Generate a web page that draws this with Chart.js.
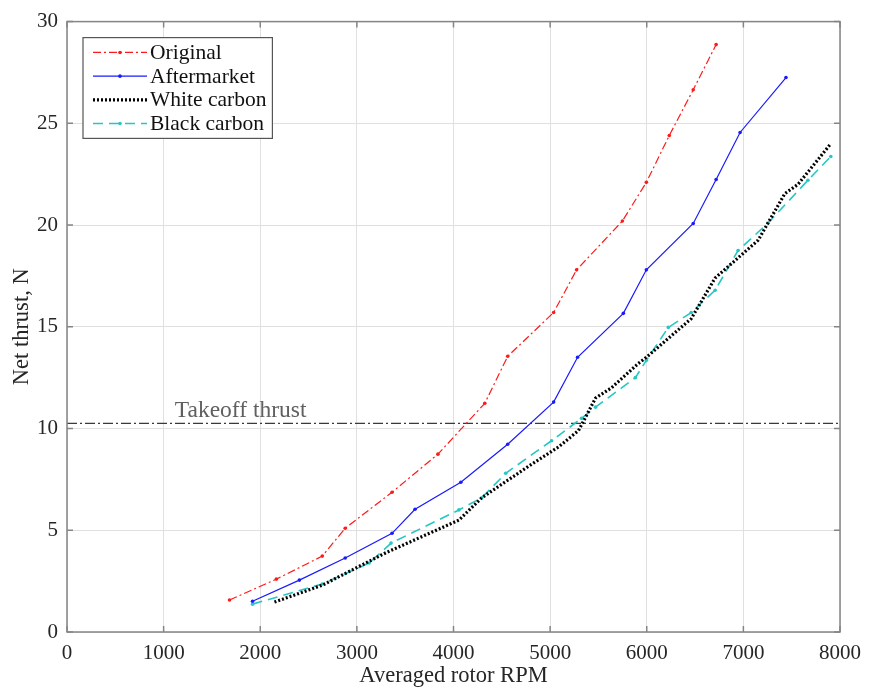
<!DOCTYPE html>
<html>
<head>
<meta charset="utf-8">
<title>Net thrust vs rotor RPM</title>
<script src="https://cdn.jsdelivr.net/npm/chart.js@4.4.1/dist/chart.umd.min.js"></script>
<style>
  html, body { margin: 0; padding: 0; background: #fff; }
  #wrap { width: 870px; height: 692px; position: relative; }
</style>
</head>
<body>
<div id="wrap"><canvas id="thrustChart"></canvas></div>
<script>
// Measured thrust per propeller set (RPM averaged over all rotors)
const origRpm    = [1682, 2167, 2642, 2879, 3364, 3839, 4324, 4561, 5036, 5274, 5748, 5996, 6233, 6481, 6718];
const origThrust = [1.57, 2.60, 3.73, 5.10, 6.87, 8.74, 11.24, 13.55, 15.70, 17.80, 20.20, 22.10, 24.40, 26.65, 28.87];

const afterRpm    = [1920, 2405, 2879, 3364, 3602, 4076, 4561, 5036, 5284, 5758, 5996, 6481, 6718, 6966, 7441];
const afterThrust = [1.51, 2.55, 3.64, 4.85, 6.03, 7.36, 9.23, 11.30, 13.50, 15.66, 17.80, 20.08, 22.24, 24.55, 27.25];

const whiteRpm    = [2147, 2642, 3096, 3302, 4056, 4293, 4778, 5088, 5294, 5366, 5470, 5635, 5913, 5996, 6460, 6708, 7152, 7430, 7565, 7905];
const whiteThrust = [1.47, 2.30, 3.40, 3.90, 5.50, 6.60, 8.15, 9.10, 9.90, 10.55, 11.50, 12.00, 13.20, 13.50, 15.40, 17.40, 19.25, 21.55, 22.00, 24.00];

const blackRpm    = [1920, 2642, 3127, 3354, 4056, 4293, 4540, 5015, 5325, 5470, 5882, 5996, 6223, 6460, 6708, 6945, 7255, 7668, 7905];
const blackThrust = [1.37, 2.36, 3.39, 4.37, 6.00, 6.60, 7.80, 9.40, 10.50, 11.05, 12.50, 13.35, 14.97, 15.70, 16.80, 18.75, 20.10, 22.20, 23.37];

const TAKEOFF = 10.25;           // required takeoff thrust, N
const TAKEOFF_LABEL_RPM = 1115;  // where the annotation text starts
const X_TICKS = [0, 1000, 2000, 3000, 4000, 5000, 6000, 7000, 8000];
const Y_TICKS = [0, 5, 10, 15, 20, 25, 30];

const SERIF = '"Liberation Serif", "DejaVu Serif", serif';
const AXIS_GREY = '#858585';
const TEXT = '#262626';

const pts = (xs, ys) => xs.map((x, i) => ({ x, y: ys[i] }));

function curveDS(label, xs, ys, color, opts = {}) {
  return {
    label,
    data: pts(xs, ys),
    borderColor: color,
    backgroundColor: color,
    borderWidth: opts.borderWidth ?? 1.2,
    borderDash: opts.dash || [],
    pointRadius: opts.pointRadius ?? 1.8,
    pointBorderWidth: 0,
    tension: 0,
    ...opts.extra,
  };
}

// Box round the plot area plus inward ticks on all four sides
const boxPlugin = {
  id: 'box',
  afterDatasetsDraw(chart) {
    const { ctx, chartArea: a, scales } = chart;
    const len = 6;
    ctx.save();
    ctx.strokeStyle = AXIS_GREY;
    ctx.lineWidth = 1.5;
    ctx.strokeRect(a.left, a.top, a.right - a.left, a.bottom - a.top);
    ctx.beginPath();
    X_TICKS.forEach(v => {
      const px = scales.x.getPixelForValue(v);
      ctx.moveTo(px, a.bottom); ctx.lineTo(px, a.bottom - len);
      ctx.moveTo(px, a.top);    ctx.lineTo(px, a.top + len);
    });
    Y_TICKS.forEach(v => {
      const py = scales.y.getPixelForValue(v);
      ctx.moveTo(a.left, py);  ctx.lineTo(a.left + len, py);
      ctx.moveTo(a.right, py); ctx.lineTo(a.right - len, py);
    });
    ctx.stroke();
    ctx.restore();
  },
};

// Takeoff thrust annotation text above the reference line
const takeoffLabel = {
  id: 'takeoffLabel',
  afterDatasetsDraw(chart) {
    const { ctx, scales } = chart;
    ctx.save();
    ctx.font = '23.5px ' + SERIF;
    ctx.fillStyle = '#606060';
    ctx.textAlign = 'left';
    ctx.textBaseline = 'alphabetic';
    ctx.fillText('Takeoff thrust', scales.x.getPixelForValue(TAKEOFF_LABEL_RPM), scales.y.getPixelForValue(TAKEOFF) - 6);
    ctx.restore();
  },
};

// Boxed legend in the upper-left corner, line samples use each dataset's style
const boxLegend = {
  id: 'boxLegend',
  afterDraw(chart) {
    const { ctx, chartArea: a } = chart;
    const items = chart.data.datasets.filter(d => d.inLegend);
    const x0 = a.left + 16, y0 = a.top + 16;
    const rowH = 23.7, sample = 54, gap = 3, padX = 10, padY = 3;
    ctx.save();
    ctx.font = '21.5px ' + SERIF;
    const textW = Math.max(...items.map(d => ctx.measureText(d.label).width));
    const w = padX + sample + gap + textW + 6;
    const h = padY * 2 + rowH * items.length;
    ctx.fillStyle = '#fff';
    ctx.fillRect(x0, y0, w, h);
    ctx.strokeStyle = '#555';
    ctx.lineWidth = 1.2;
    ctx.strokeRect(x0, y0, w, h);
    items.forEach((d, i) => {
      const cy = y0 + padY + rowH * (i + 0.5);
      const sx = x0 + padX;
      ctx.strokeStyle = d.borderColor;
      ctx.lineWidth = d.borderWidth;
      ctx.setLineDash(d.borderDash || []);
      ctx.beginPath();
      ctx.moveTo(sx, cy); ctx.lineTo(sx + sample, cy);
      ctx.stroke();
      ctx.setLineDash([]);
      if (d.pointRadius > 0) {
        ctx.fillStyle = d.borderColor;
        ctx.beginPath();
        ctx.arc(sx + sample / 2, cy, d.pointRadius, 0, Math.PI * 2);
        ctx.fill();
      }
      ctx.fillStyle = '#111';
      ctx.textAlign = 'left';
      ctx.textBaseline = 'middle';
      ctx.fillText(d.label, sx + sample + gap, cy + 1);
    });
    ctx.restore();
  },
};

const datasets = [
  curveDS('Original', origRpm, origThrust, '#ff1a1a', { dash: [8, 3, 2, 3], extra: { inLegend: true } }),
  curveDS('Aftermarket', afterRpm, afterThrust, '#1a1aff', { extra: { inLegend: true } }),
  curveDS('White carbon', whiteRpm, whiteThrust, '#000000', { dash: [2, 2], borderWidth: 3.2, pointRadius: 0, extra: { inLegend: true } }),
  curveDS('Black carbon', blackRpm, blackThrust, '#26c6c6', { dash: [10, 6], borderWidth: 1.6, extra: { inLegend: true } }),
  {
    label: 'Takeoff thrust',
    data: [{ x: 0, y: TAKEOFF }, { x: 8000, y: TAKEOFF }],
    borderColor: '#3a3a3a',
    borderWidth: 1.3,
    borderDash: [10, 3, 2, 3],
    pointRadius: 0,
    tension: 0,
    order: 5,
  },
];

new Chart(document.getElementById('thrustChart'), {
  type: 'line',
  data: { datasets },
  plugins: [boxPlugin, takeoffLabel, boxLegend],
  options: {
    responsive: true,
    maintainAspectRatio: false,
    animation: false,
    layout: { padding: { top: 21, right: 28, left: 0, bottom: 0 } },
    plugins: { legend: { display: false }, tooltip: { enabled: false } },
    scales: {
      x: {
        type: 'linear',
        min: 0, max: 8000,
        afterBuildTicks: axis => { axis.ticks = X_TICKS.map(value => ({ value })); },
        afterFit: axis => { axis.height = 60; },
        grid: { color: '#e0e0e0', drawTicks: false },
        border: { display: false },
        ticks: { color: TEXT, padding: 9, font: { family: SERIF, size: 21 }, maxRotation: 0, callback: v => String(v) },
        title: { display: true, text: 'Averaged rotor RPM', color: TEXT, font: { family: SERIF, size: 22.5 }, padding: { top: 0, bottom: 2 } },
      },
      y: {
        type: 'linear',
        min: 0, max: 30,
        afterBuildTicks: axis => { axis.ticks = Y_TICKS.map(value => ({ value })); },
        afterFit: axis => { axis.width = 67; },
        grid: { color: '#e0e0e0', drawTicks: false },
        border: { display: false },
        ticks: { color: TEXT, padding: 9, font: { family: SERIF, size: 21 }, callback: v => String(v) },
        title: { display: true, text: 'Net thrust, N', color: TEXT, font: { family: SERIF, size: 22.5 }, padding: { top: 9, bottom: 0 } },
      },
    },
  },
});
</script>
</body>
</html>
